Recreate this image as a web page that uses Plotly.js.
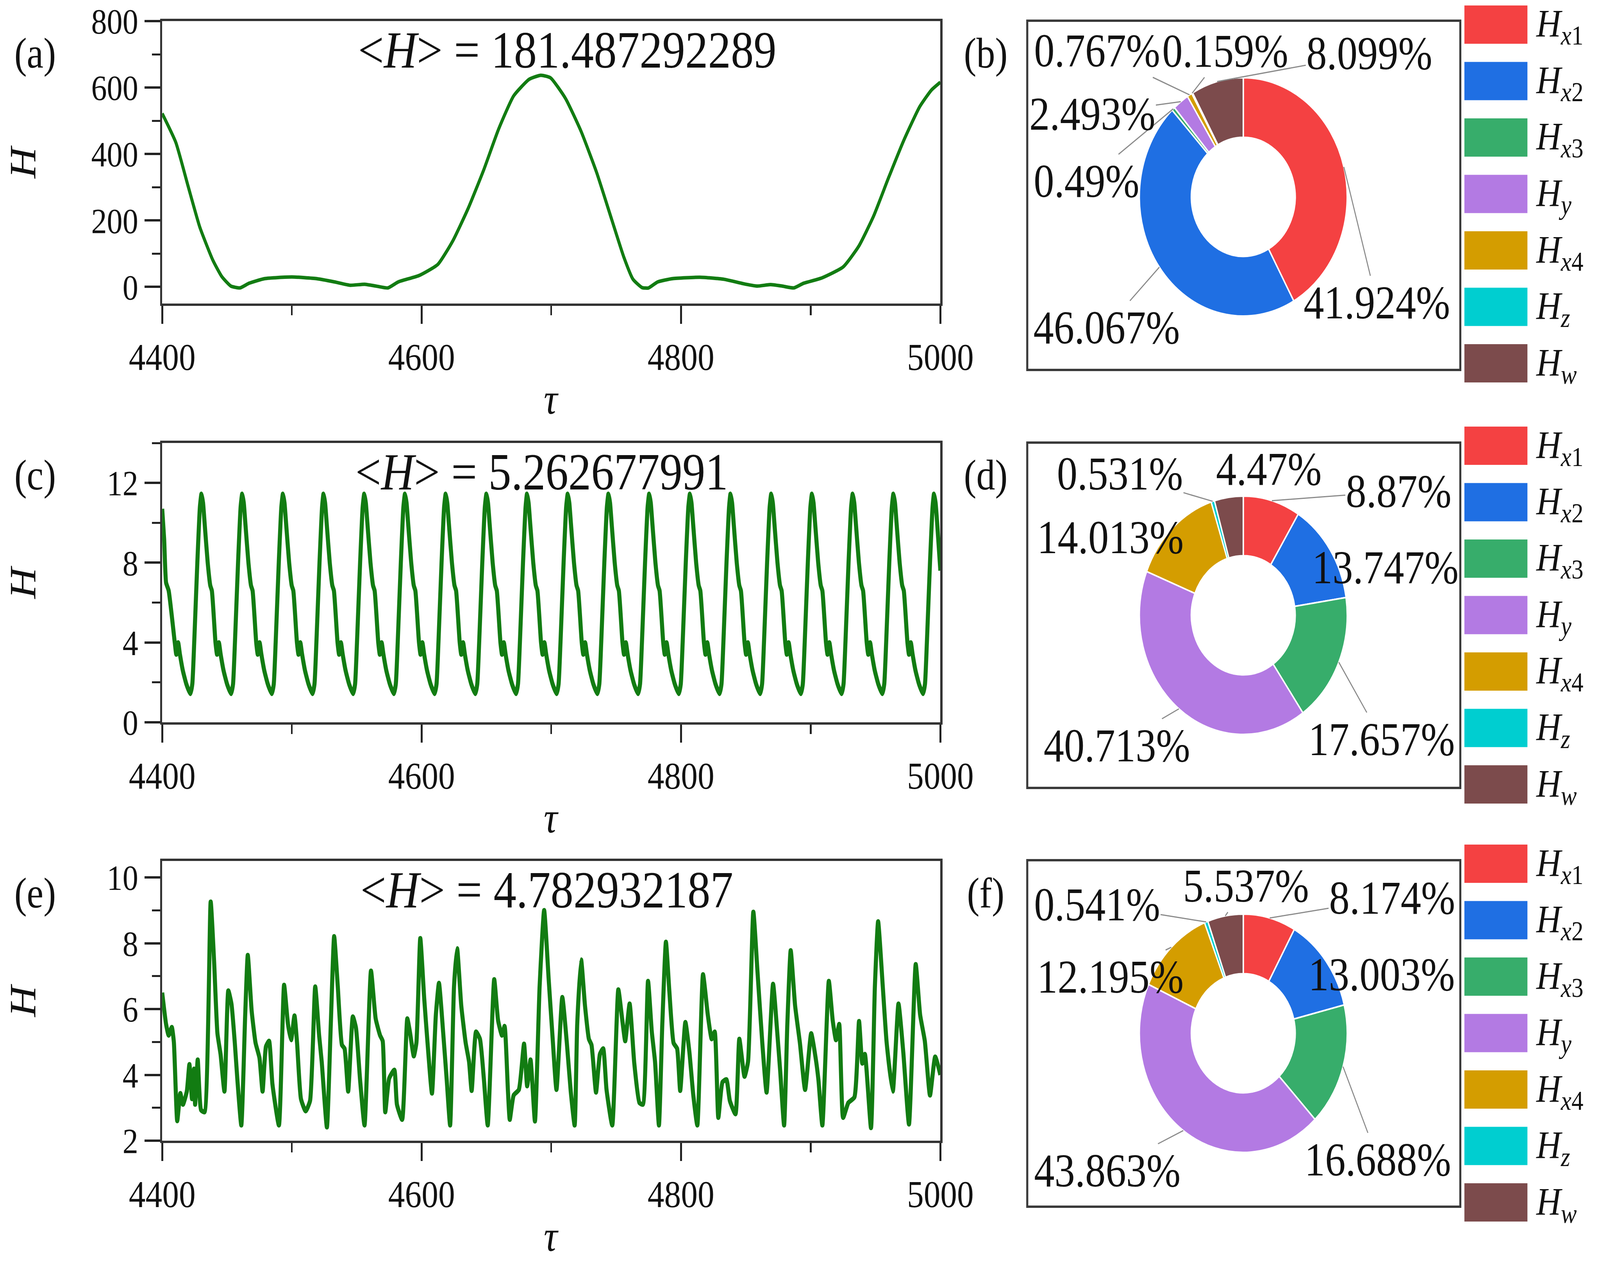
<!DOCTYPE html>
<html>
<head>
<meta charset="utf-8">
<script src="https://cdn.plot.ly/plotly-3.0.1.min.js"></script>
<style>
  html, body { margin: 0; padding: 0; background: #ffffff; overflow: hidden; }
  #chart { width: 4696px; height: 3228px; transform-origin: 0 0; }
</style>
</head>
<body>
<div id="chart"></div>
<script>
// Energy time series H(tau) and the share of each energy component

// (a) time series
var tauA = [4400, 4410.5, 4420, 4429, 4439, 4446, 4453, 4460, 4467, 4479, 4500, 4519, 4533, 4545, 4556,
  4565, 4574, 4582, 4598.5, 4612.6, 4624, 4636, 4648, 4659.5, 4671, 4683, 4692, 4699.5, 4711, 4723,
  4735, 4746.5, 4756, 4763, 4770, 4775, 4782, 4793.5, 4814.6, 4833, 4850, 4859, 4869, 4878, 4887,
  4894.5, 4908.6, 4925, 4937, 4948.5, 4960, 4972, 4984, 4993, 5000];
var hA = [522, 435, 303, 180, 81, 31, 2.5, -3, 11, 25, 30, 25, 15, 5, 8,
  2.5, -3, 15, 35, 68, 138, 237, 353, 476, 575, 625, 637, 629, 567, 468,
  344, 204, 89, 23, -2, -3, 15, 25, 29, 23, 8, 2.5, 7, 2.5, -3,
  11, 27, 60, 122, 213, 328, 443, 542, 592, 616];

// (c) time series
var tauC = [
  4400, 4401.5, 4403, 4405, 4409.7, 4410.9, 4412.3, 4413.7, 4415.9, 4418.7, 4421.7, 4423.2, 4424.7, 4427.1, 4429.1,
  4430.3, 4431.5, 4432.7, 4435.1, 4437.1, 4438.3, 4441.1, 4442.3, 4443.7, 4445.1, 4447.3, 4450.1, 4453.1, 4454.6, 4456.1, 4458.5, 4460.5,
  4461.7, 4462.9, 4464.1, 4466.5, 4468.5, 4469.7, 4472.5, 4473.7, 4475.1, 4476.5, 4478.7, 4481.5, 4484.5, 4486.0, 4487.5, 4489.9, 4491.9,
  4493.1, 4494.3, 4495.5, 4497.9, 4499.9, 4501.1, 4503.9, 4505.1, 4506.5, 4507.9, 4510.1, 4512.9, 4515.9, 4517.4, 4518.9, 4521.3, 4523.3,
  4524.4, 4525.6, 4526.8, 4529.2, 4531.2, 4532.4, 4535.2, 4536.4, 4537.8, 4539.2, 4541.4, 4544.2, 4547.2, 4548.7, 4550.2, 4552.6, 4554.6,
  4555.8, 4557.0, 4558.2, 4560.6, 4562.6, 4563.8, 4566.6, 4567.8, 4569.2, 4570.6, 4572.8, 4575.6, 4578.6, 4580.1, 4581.6, 4584.0, 4586.0,
  4587.2, 4588.4, 4589.6, 4592.0, 4594.0, 4595.2, 4598.0, 4599.2, 4600.6, 4602.0, 4604.2, 4607.0, 4610.0, 4611.5, 4613.0, 4615.4, 4617.4,
  4618.6, 4619.8, 4621.0, 4623.4, 4625.4, 4626.6, 4629.4, 4630.6, 4632.0, 4633.4, 4635.6, 4638.4, 4641.4, 4642.9, 4644.4, 4646.8, 4648.8,
  4650.0, 4651.2, 4652.4, 4654.8, 4656.8, 4658.0, 4660.8, 4662.0, 4663.4, 4664.8, 4667.0, 4669.8, 4672.8, 4674.3, 4675.8, 4678.2, 4680.2,
  4681.3, 4682.5, 4683.7, 4686.1, 4688.1, 4689.3, 4692.1, 4693.3, 4694.7, 4696.1, 4698.3, 4701.1, 4704.1, 4705.6, 4707.1, 4709.5, 4711.5,
  4712.7, 4713.9, 4715.1, 4717.5, 4719.5, 4720.7, 4723.5, 4724.7, 4726.1, 4727.5, 4729.7, 4732.5, 4735.5, 4737.0, 4738.5, 4740.9, 4742.9,
  4744.1, 4745.3, 4746.5, 4748.9, 4750.9, 4752.1, 4754.9, 4756.1, 4757.5, 4758.9, 4761.1, 4763.9, 4766.9, 4768.4, 4769.9, 4772.3, 4774.3,
  4775.5, 4776.7, 4777.9, 4780.3, 4782.3, 4783.5, 4786.3, 4787.5, 4788.9, 4790.3, 4792.5, 4795.3, 4798.3, 4799.8, 4801.3, 4803.7, 4805.7,
  4806.9, 4808.1, 4809.3, 4811.7, 4813.7, 4814.9, 4817.7, 4818.9, 4820.3, 4821.7, 4823.9, 4826.7, 4829.7, 4831.2, 4832.7, 4835.1, 4837.1,
  4838.2, 4839.4, 4840.6, 4843.0, 4845.0, 4846.2, 4849.0, 4850.2, 4851.6, 4853.0, 4855.2, 4858.0, 4861.0, 4862.5, 4864.0, 4866.4, 4868.4,
  4869.6, 4870.8, 4872.0, 4874.4, 4876.4, 4877.6, 4880.4, 4881.6, 4883.0, 4884.4, 4886.6, 4889.4, 4892.4, 4893.9, 4895.4, 4897.8, 4899.8,
  4901.0, 4902.2, 4903.4, 4905.8, 4907.8, 4909.0, 4911.8, 4913.0, 4914.4, 4915.8, 4918.0, 4920.8, 4923.8, 4925.3, 4926.8, 4929.2, 4931.2,
  4932.4, 4933.6, 4934.8, 4937.2, 4939.2, 4940.4, 4943.2, 4944.4, 4945.8, 4947.2, 4949.4, 4952.2, 4955.2, 4956.7, 4958.2, 4960.6, 4962.6,
  4963.8, 4965.0, 4966.2, 4968.6, 4970.6, 4971.8, 4974.6, 4975.8, 4977.2, 4978.6, 4980.8, 4983.6, 4986.6, 4988.1, 4989.6, 4992.0, 4994.0,
  4995.1, 4996.3, 4997.5, 5000
];
var hC = [
  10.7, 9.2, 7.0, 6.6, 4.0, 3.4, 4.0, 3.4, 2.6, 1.9, 1.43, 1.9, 4.0, 8.0, 10.8,
  11.45, 11.0, 10.0, 8.0, 6.85, 6.6, 4.0, 3.4, 4.0, 3.4, 2.6, 1.9, 1.43, 1.9, 4.0, 8.0, 10.8,
  11.45, 11.0, 10.0, 8.0, 6.85, 6.6, 4.0, 3.4, 4.0, 3.4, 2.6, 1.9, 1.43, 1.9, 4.0, 8.0, 10.8,
  11.45, 11.0, 10.0, 8.0, 6.85, 6.6, 4.0, 3.4, 4.0, 3.4, 2.6, 1.9, 1.43, 1.9, 4.0, 8.0, 10.8,
  11.45, 11.0, 10.0, 8.0, 6.85, 6.6, 4.0, 3.4, 4.0, 3.4, 2.6, 1.9, 1.43, 1.9, 4.0, 8.0, 10.8,
  11.45, 11.0, 10.0, 8.0, 6.85, 6.6, 4.0, 3.4, 4.0, 3.4, 2.6, 1.9, 1.43, 1.9, 4.0, 8.0, 10.8,
  11.45, 11.0, 10.0, 8.0, 6.85, 6.6, 4.0, 3.4, 4.0, 3.4, 2.6, 1.9, 1.43, 1.9, 4.0, 8.0, 10.8,
  11.45, 11.0, 10.0, 8.0, 6.85, 6.6, 4.0, 3.4, 4.0, 3.4, 2.6, 1.9, 1.43, 1.9, 4.0, 8.0, 10.8,
  11.45, 11.0, 10.0, 8.0, 6.85, 6.6, 4.0, 3.4, 4.0, 3.4, 2.6, 1.9, 1.43, 1.9, 4.0, 8.0, 10.8,
  11.45, 11.0, 10.0, 8.0, 6.85, 6.6, 4.0, 3.4, 4.0, 3.4, 2.6, 1.9, 1.43, 1.9, 4.0, 8.0, 10.8,
  11.45, 11.0, 10.0, 8.0, 6.85, 6.6, 4.0, 3.4, 4.0, 3.4, 2.6, 1.9, 1.43, 1.9, 4.0, 8.0, 10.8,
  11.45, 11.0, 10.0, 8.0, 6.85, 6.6, 4.0, 3.4, 4.0, 3.4, 2.6, 1.9, 1.43, 1.9, 4.0, 8.0, 10.8,
  11.45, 11.0, 10.0, 8.0, 6.85, 6.6, 4.0, 3.4, 4.0, 3.4, 2.6, 1.9, 1.43, 1.9, 4.0, 8.0, 10.8,
  11.45, 11.0, 10.0, 8.0, 6.85, 6.6, 4.0, 3.4, 4.0, 3.4, 2.6, 1.9, 1.43, 1.9, 4.0, 8.0, 10.8,
  11.45, 11.0, 10.0, 8.0, 6.85, 6.6, 4.0, 3.4, 4.0, 3.4, 2.6, 1.9, 1.43, 1.9, 4.0, 8.0, 10.8,
  11.45, 11.0, 10.0, 8.0, 6.85, 6.6, 4.0, 3.4, 4.0, 3.4, 2.6, 1.9, 1.43, 1.9, 4.0, 8.0, 10.8,
  11.45, 11.0, 10.0, 8.0, 6.85, 6.6, 4.0, 3.4, 4.0, 3.4, 2.6, 1.9, 1.43, 1.9, 4.0, 8.0, 10.8,
  11.45, 11.0, 10.0, 8.0, 6.85, 6.6, 4.0, 3.4, 4.0, 3.4, 2.6, 1.9, 1.43, 1.9, 4.0, 8.0, 10.8,
  11.45, 11.0, 10.0, 8.0, 6.85, 6.6, 4.0, 3.4, 4.0, 3.4, 2.6, 1.9, 1.43, 1.9, 4.0, 8.0, 10.8,
  11.45, 11.0, 10.0, 7.6
];

// (e) time series
var tauE = [
  4400, 4403, 4405, 4407.4, 4409, 4411.6, 4414, 4416, 4419, 4421, 4423, 4424.6, 4425.4, 4427.4, 4430, 4432.6,
  4437.4, 4440, 4442.6, 4445, 4448, 4451, 4453.4, 4456, 4458, 4461, 4464, 4466, 4469, 4472, 4475, 4477.4,
  4480, 4482.4, 4485, 4490, 4494, 4497, 4499.4, 4502, 4504, 4507, 4510.6, 4514, 4518, 4521, 4523, 4527,
  4530, 4532.6, 4535.4, 4538.6, 4540.6, 4543.4, 4547, 4549.4, 4552.6, 4556, 4561, 4564.6, 4568, 4570,
  4572, 4575, 4579, 4581, 4585, 4589, 4591, 4594, 4596, 4599, 4602, 4604.6, 4608, 4611, 4613.4, 4616.6,
  4619.4, 4622, 4625, 4627.4, 4630.6, 4634, 4636.6, 4638.6, 4642, 4645, 4648, 4651, 4656, 4659, 4662, 4664,
  4666.6, 4668, 4671, 4675, 4679, 4681.4, 4684, 4687.4, 4691, 4694.5, 4698, 4701, 4704, 4708.5, 4712, 4715,
  4718, 4720, 4723, 4726, 4729, 4731, 4734.5, 4737.5, 4740, 4742.6, 4747, 4751.7, 4754.8, 4757, 4760.4, 4764,
  4768, 4770.6, 4774.6, 4777.5, 4780, 4783, 4785.6, 4788.4, 4791, 4794.3, 4797, 4799.4, 4803.4, 4806.5, 4809.5, 4812.6,
  4817, 4820.7, 4823.7, 4826, 4828.8, 4832, 4835, 4837.7, 4842, 4845, 4849, 4851.7, 4855.8, 4859, 4862.7, 4866,
  4871, 4874.4, 4876.5, 4879.5, 4882, 4884.6, 4888, 4891.7, 4895.7, 4900.4, 4903.8, 4906, 4909, 4914, 4917, 4919.5,
  4922, 4925, 4929, 4933.7, 4937.3, 4939.8, 4941.8, 4946.5, 4949.5, 4952, 4955.6, 4958.6, 4963.3, 4967.7, 4971.4, 4975.8,
  4981, 4984.4, 4988, 4992, 4996, 5000
];
var hE = [
  6.5, 5.54, 5.2, 5.45, 5.0, 2.6, 3.44, 3.1, 3.5, 4.32, 3.27, 4.18, 3.1, 4.46, 2.93, 2.87,
  9.26, 7.47, 5.26, 4.63, 3.5, 6.56, 6.16, 4.97, 3.84, 2.47, 5.82, 7.64, 5.94, 4.97, 4.52, 3.5,
  4.86, 5.03, 3.72, 2.47, 6.73, 5.54, 5.06, 5.8, 4.97, 3.27, 2.9, 3.21, 6.68, 5.2, 4.4, 2.41,
  5.54, 8.21, 6.68, 4.91, 4.8, 3.5, 5.77, 5.43, 3.84, 2.47, 7.16, 5.71, 5.2, 5.03,
  2.87, 3.89, 4.15, 3.1, 2.64, 5.71, 5.31, 4.57, 4.97, 8.15, 6.34, 4.97, 3.44, 5.82, 6.79, 5.31,
  3.84, 2.47, 6.68, 7.84, 6.1, 4.97, 4.4, 3.52, 5.31, 5.09, 3.89, 2.47, 6.9, 5.65, 5.2, 5.48,
  3.5, 2.64, 3.38, 3.55, 4.94, 3.66, 4.46, 2.59, 6.68, 9.0, 6.9, 5.14, 3.55, 6.36, 4.97, 3.5,
  2.47, 5.54, 7.5, 6.1, 5.09, 4.91, 3.47, 4.63, 4.8, 3.55, 2.47, 6.59, 5.65, 5.03, 6.16, 4.35,
  3.15, 3.1, 6.85, 5.31, 4.4, 2.47, 5.54, 8.04, 6.56, 4.97, 4.8, 3.52, 5.6, 4.69, 3.38, 2.47,
  7.05, 5.82, 5.09, 5.31, 2.7, 3.78, 3.86, 3.21, 2.81, 5.09, 3.95, 4.4, 8.95, 7.13, 4.97, 3.47,
  6.76, 5.2, 4.12, 2.47, 5.54, 7.78, 6.1, 4.97, 3.55, 5.26, 4.52, 3.84, 2.47, 6.85, 5.65, 5.06,
  5.54, 2.7, 3.15, 3.32, 5.63, 4.35, 4.63, 2.39, 6.68, 8.66, 6.68, 4.97, 3.5, 6.16, 4.69, 2.5,
  7.36, 5.82, 5.03, 3.38, 4.55, 4.0
];

// mean values written inside each panel
var meanH = ['181.487292289', '5.262677991', '4.782932187'];

// energy components, share in percent
var components = ['Hx1', 'Hx2', 'Hx3', 'Hy', 'Hx4', 'Hz', 'Hw'];
var componentLabels = [
  '<i>H</i><sub><i>x</i>1</sub>', '<i>H</i><sub><i>x</i>2</sub>', '<i>H</i><sub><i>x</i>3</sub>',
  '<i>H</i><sub><i>y</i></sub>', '<i>H</i><sub><i>x</i>4</sub>', '<i>H</i><sub><i>z</i></sub>',
  '<i>H</i><sub><i>w</i></sub>'
];
var shareB = [41.924, 46.067, 0.49, 2.493, 0.767, 0.159, 8.099];
var shareD = [8.87, 13.747, 17.657, 40.713, 14.013, 0.531, 4.47];
var shareF = [8.174, 13.003, 16.688, 43.863, 12.195, 0.541, 5.537];
var sliceColors = ['#f44142', '#1f6fe3', '#37ad6b', '#b37ae3', '#d49d00', '#00ced0', '#7c4b4c'];

var W = 4696, H = 3228;
var serif = 'Liberation Serif, Times New Roman, serif';
var lineGreen = '#127c12';

function px(x) { return x / W; }
function py(y) { return 1 - y / H; }

// rows of the figure (pixel positions)
var rows = [
  {top: 54, bottom: 777, pieY: 504, boxTop: 53, boxBottom: 947, legY: 63, tag: ['(a)', '(b)'], meanX: 1665},
  {top: 1134, bottom: 1849, pieY: 1575, boxTop: 1133, boxBottom: 2017, legY: 1141, tag: ['(c)', '(d)'], meanX: 1590},
  {top: 2204, bottom: 2920, pieY: 2645, boxTop: 2202, boxBottom: 3089, legY: 2211, tag: ['(e)', '(f)'], meanX: 1605}
];
var plotLeft = 476, plotRight = 2760;
var pieX = 3649, pieR = 305;

// where each percentage label sits (pixel centre) and whether it has a leader line
var pieLabelPos = [
  [[4041, 774, 1], [3248, 838, 1], [3189, 463, 1], [3206, 291, 1], [3220, 130, 1], [3596, 130, 1], [4019, 137, 1]],
  [[4105, 1257, 1], [4066, 1452, 0], [4055, 1892, 1], [3278, 1908, 1], [3259, 1375, 0], [3287, 1213, 1], [3724, 1201, 0]],
  [[4086, 2298, 1], [4055, 2494, 0], [4044, 2968, 1], [3250, 2996, 1], [3259, 2500, 1], [3220, 2315, 1], [3657, 2267, 1]]
];

var series = [[tauA, hA], [tauC, hC], [tauE, hE]];
var shares = [shareB, shareD, shareF];

var data = [];
for (var i = 0; i < 3; i++) {
  var s = i === 0 ? '' : String(i + 1);
  data.push({
    x: series[i][0],
    y: series[i][1],
    xaxis: 'x' + s,
    yaxis: 'y' + s,
    type: 'scatter',
    mode: 'lines',
    line: {color: lineGreen, width: i === 0 ? 9 : 12, shape: 'spline', smoothing: 0.5},
    hoverinfo: 'none',
    showlegend: false
  });
  data.push({
    type: 'pie',
    labels: components,
    values: shares[i],
    textinfo: 'none',
    hole: 0.5,
    sort: false,
    direction: 'clockwise',
    rotation: 0,
    marker: {colors: sliceColors, line: {color: '#ffffff', width: 4}},
    domain: {
      x: [px(pieX - pieR), px(pieX + pieR)],
      y: [py(rows[i].pieY + pieR), py(rows[i].pieY - pieR)]
    },
    hoverinfo: 'none',
    showlegend: false
  });
}

function xAxis(anchor) {
  return {
    domain: [px(plotLeft), px(plotRight)],
    anchor: anchor,
    range: [4400, 5000],
    tick0: 4400,
    dtick: 200,
    ticks: 'outside',
    ticklen: 46,
    tickwidth: 6,
    tickcolor: '#222222',
    minor: {dtick: 100, ticks: 'outside', ticklen: 24, tickwidth: 5, tickcolor: '#222222', showgrid: false},
    showline: true,
    linewidth: 6,
    linecolor: '#333333',
    mirror: true,
    showgrid: false,
    zeroline: false,
    tickfont: {family: serif, size: 98, color: '#111111'}
  };
}

function yAxis(anchor, row, range, dtick, minorDtick) {
  return {
    domain: [py(row.bottom), py(row.top)],
    anchor: anchor,
    range: range,
    tick0: 0,
    dtick: dtick,
    ticks: 'outside',
    ticklen: 46,
    tickwidth: 6,
    tickcolor: '#222222',
    minor: {dtick: minorDtick, tick0: 0, ticks: 'outside', ticklen: 24, tickwidth: 5, tickcolor: '#222222', showgrid: false},
    showline: true,
    linewidth: 6,
    linecolor: '#333333',
    mirror: true,
    showgrid: false,
    zeroline: false,
    tickfont: {family: serif, size: 92, color: '#111111'}
  };
}

var shapes = [];
var annotations = [];

rows.forEach(function (row, i) {
  // frame around each donut
  shapes.push({
    type: 'rect', xref: 'paper', yref: 'paper',
    x0: px(3015), x1: px(4286), y0: py(row.boxBottom), y1: py(row.boxTop),
    line: {color: '#3a3a3a', width: 6}, fillcolor: 'rgba(0,0,0,0)'
  });

  // percentage labels with leader lines to the middle of each slice
  var total = shares[i].reduce(function (a, b) { return a + b; }, 0);
  var cum = 0;
  shares[i].forEach(function (v, k) {
    var theta = 2 * Math.PI * (cum + v / 2) / total;
    cum += v;
    var sx = pieX + pieR * Math.sin(theta);
    var sy = row.pieY - pieR * Math.cos(theta);
    var lp = pieLabelPos[i][k];
    var ann = {
      xref: 'paper', yref: 'paper',
      text: v + '%',
      font: {family: serif, size: 120, color: '#111111'}
    };
    if (lp[2]) {
      ann.x = px(sx); ann.y = py(sy);
      ann.ax = lp[0] - sx; ann.ay = lp[1] - sy;
      ann.showarrow = true; ann.arrowhead = 0; ann.arrowwidth = 3; ann.arrowcolor = '#8a8a8a';
      ann.standoff = 0;
    } else {
      ann.x = px(lp[0]); ann.y = py(lp[1]);
      ann.xanchor = 'center'; ann.yanchor = 'middle'; ann.showarrow = false;
    }
    annotations.push(ann);
  });

  // legend swatches and labels
  components.forEach(function (c, k) {
    var cy = row.legY + k * 144.5;
    shapes.push({
      type: 'rect', xref: 'paper', yref: 'paper',
      x0: px(4298), x1: px(4483), y0: py(cy + 49), y1: py(cy - 49),
      line: {width: 0}, fillcolor: sliceColors[k]
    });
    annotations.push({
      xref: 'paper', yref: 'paper', x: px(4505), y: py(cy + 4),
      xanchor: 'left', yanchor: 'middle', showarrow: false,
      text: componentLabels[k],
      font: {family: serif, size: 100, color: '#111111'}
    });
  });

  // panel tags
  annotations.push({
    xref: 'paper', yref: 'paper', x: px(103), y: py(row.top + 82),
    xanchor: 'center', yanchor: 'middle', showarrow: false,
    text: row.tag[0], font: {family: serif, size: 110, color: '#111111'}
  });
  annotations.push({
    xref: 'paper', yref: 'paper', x: px(2893), y: py(row.top + 82),
    xanchor: 'center', yanchor: 'middle', showarrow: false,
    text: row.tag[1], font: {family: serif, size: 110, color: '#111111'}
  });

  // mean value
  annotations.push({
    xref: 'paper', yref: 'paper', x: px(row.meanX), y: py(row.top + 74),
    xanchor: 'center', yanchor: 'middle', showarrow: false,
    text: '&lt;<i>H</i>&gt; = ' + meanH[i],
    font: {family: serif, size: 134, color: '#111111'}
  });

  // axis titles
  annotations.push({
    xref: 'paper', yref: 'paper', x: px((plotLeft + plotRight) / 2), y: py(row.bottom + 244),
    xanchor: 'center', yanchor: 'middle', showarrow: false,
    text: '<i>τ</i>', font: {family: serif, size: 112, color: '#111111'}
  });
  annotations.push({
    xref: 'paper', yref: 'paper', x: px(67), y: py((row.top + row.bottom) / 2),
    xanchor: 'center', yanchor: 'middle', showarrow: false, textangle: -90,
    text: '<i>H</i>', font: {family: serif, size: 110, color: '#111111'}
  });
});

var layout = {
  width: W,
  height: H,
  margin: {l: 0, r: 0, t: 0, b: 0},
  paper_bgcolor: '#ffffff',
  plot_bgcolor: '#ffffff',
  showlegend: false,
  font: {family: serif, color: '#111111'},
  xaxis: xAxis('y'),
  yaxis: yAxis('x', rows[0], [-50, 800], 200, 100),
  xaxis2: xAxis('y2'),
  yaxis2: yAxis('x2', rows[1], [0, 14], 4, 2),
  xaxis3: xAxis('y3'),
  yaxis3: yAxis('x3', rows[2], [2, 10.5], 2, 1),
  shapes: shapes,
  annotations: annotations
};

// stretch the full-size figure so it fills the actual window
var chartDiv = document.getElementById('chart');
var sx = window.innerWidth / W, sy = window.innerHeight / H;
if (sx > 0 && sy > 0 && (Math.abs(sx - 1) > 0.002 || Math.abs(sy - 1) > 0.002)) {
  chartDiv.style.transform = 'scale(' + sx + ',' + sy + ')';
}

Plotly.newPlot('chart', data, layout, {staticPlot: true});
</script>
</body>
</html>
